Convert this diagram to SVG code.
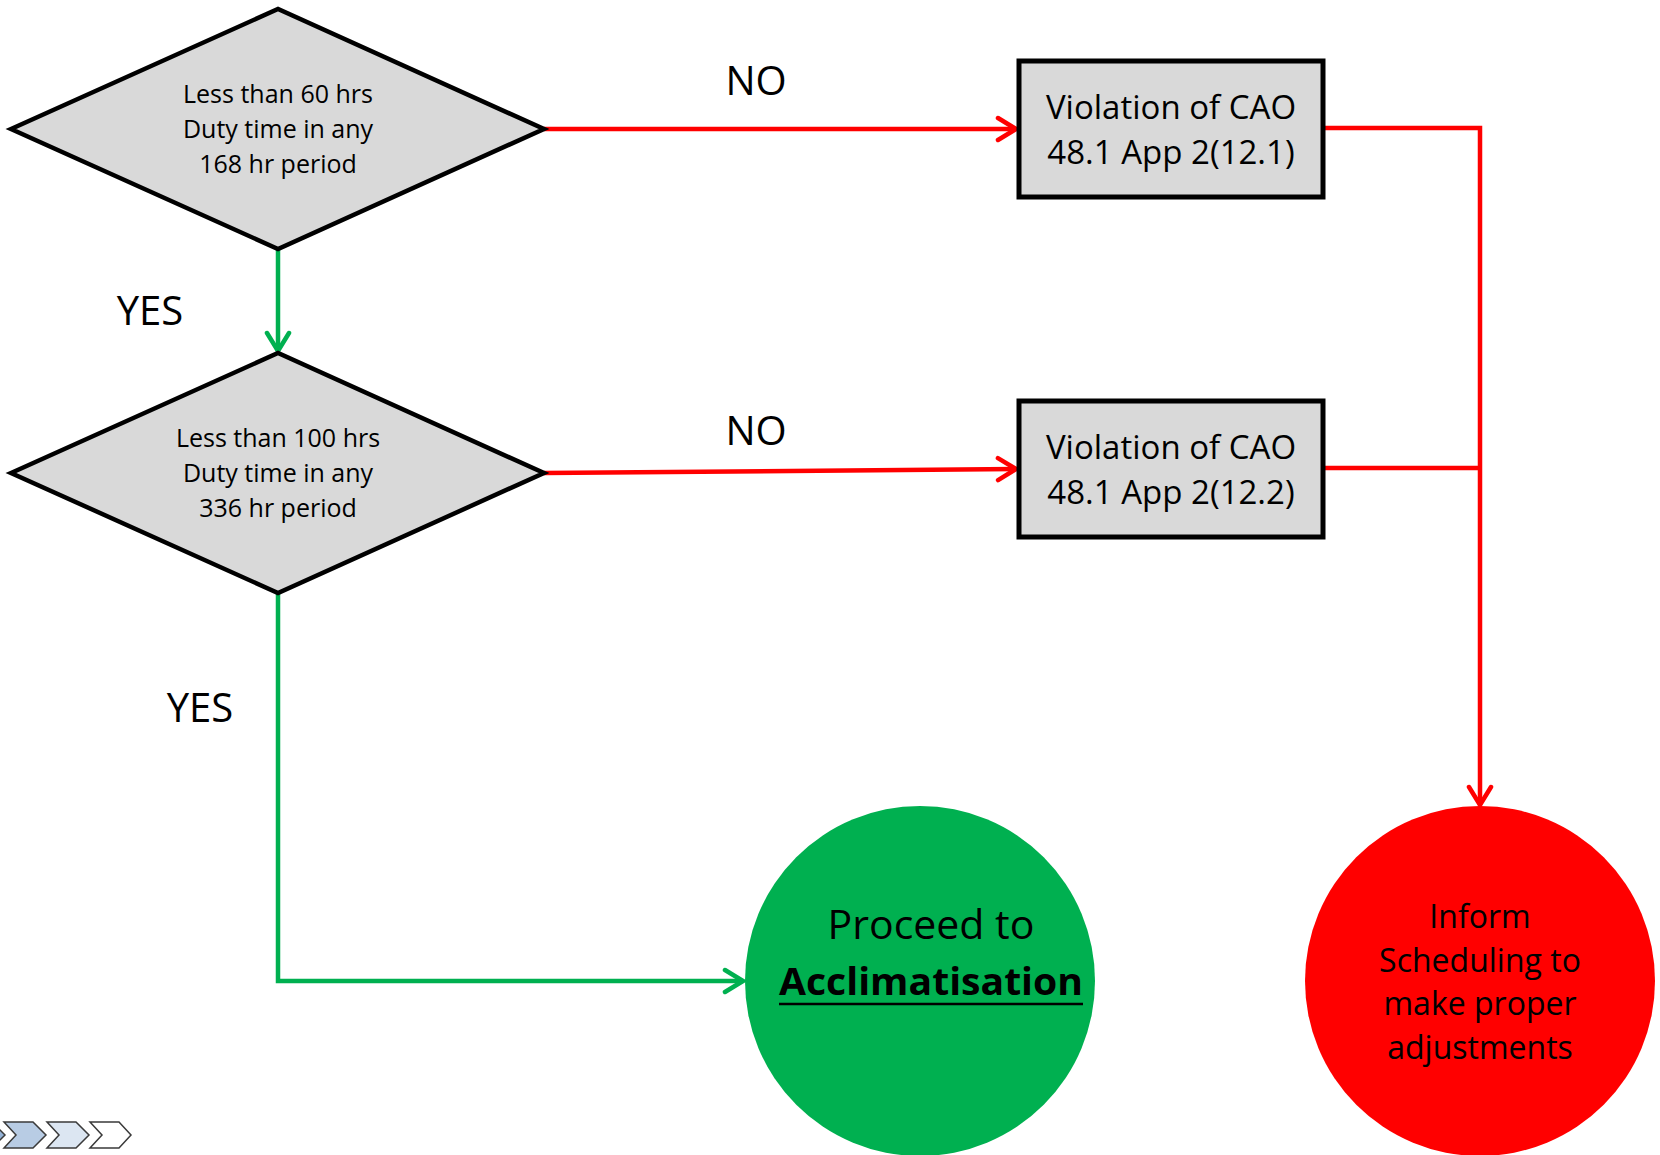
<svg xmlns="http://www.w3.org/2000/svg" width="1660" height="1155" viewBox="0 0 1660 1155">
<defs>
<style>
text{font-family:"Open Sans","Noto Sans","Liberation Sans",sans-serif;fill:#000;text-anchor:middle}
.dia{fill:#D9D9D9;stroke:#000;stroke-width:4.5;stroke-linejoin:miter}
.box{fill:#D9D9D9;stroke:#000;stroke-width:5}
.red{fill:none;stroke:#FF0000;stroke-width:4.5}
.grn{fill:none;stroke:#00B050;stroke-width:4.5}
.t25{font-size:25px}
.t32{font-size:33px}
.t32c{font-size:32px}
.lab{font-size:40px}
.chev{stroke:#3A3A3A;stroke-width:1.5;stroke-linejoin:miter}
</style>
<marker id="ar" viewBox="-22 -14 26 28" markerWidth="26" markerHeight="28" refX="0" refY="0" orient="auto" markerUnits="userSpaceOnUse">
<path d="M-18,-11 L0,0 L-18,11" fill="none" stroke="#FF0000" stroke-width="4.5" stroke-linecap="round" stroke-linejoin="miter"/>
</marker>
<marker id="ag" viewBox="-22 -14 26 28" markerWidth="26" markerHeight="28" refX="0" refY="0" orient="auto" markerUnits="userSpaceOnUse">
<path d="M-18,-11 L0,0 L-18,11" fill="none" stroke="#00B050" stroke-width="4.5" stroke-linecap="round" stroke-linejoin="miter"/>
</marker>
</defs>
<rect width="1660" height="1155" fill="#fff"/>

<g id="connectors">
<path class="red" d="M544,129 L1016,129" marker-end="url(#ar)"/>
<path class="red" d="M544,473 L1016,469" marker-end="url(#ar)"/>
<path class="red" d="M1324,128 L1480,128 L1480,805" marker-end="url(#ar)"/>
<path class="red" d="M1324,468 L1480,468"/>
<path class="grn" d="M278,249 L278,351" marker-end="url(#ag)"/>
<path class="grn" d="M278,593 L278,981 L743,981" marker-end="url(#ag)"/>
<text class="lab" x="756" y="95">NO</text>
<text class="lab" x="756" y="445">NO</text>
<text class="lab" x="150" y="325">YES</text>
<text class="lab" x="200" y="722">YES</text>
</g>

<g id="decision1">
<polygon class="dia" points="11,129 278,9 544,129 278,249"/>
<text class="t25" x="278" y="103">Less than 60 hrs</text>
<text class="t25" x="278" y="138">Duty time in any</text>
<text class="t25" x="278" y="173">168 hr period</text>
</g>

<g id="decision2">
<polygon class="dia" points="11,473 278,353 544,473 278,593"/>
<text class="t25" x="278" y="447">Less than 100 hrs</text>
<text class="t25" x="278" y="482">Duty time in any</text>
<text class="t25" x="278" y="517">336 hr period</text>
</g>

<g id="violation1">
<rect class="box" x="1019" y="61" width="304" height="136"/>
<text class="t32" x="1171" y="119">Violation of CAO</text>
<text class="t32" x="1171" y="164">48.1 App 2(12.1)</text>
</g>

<g id="violation2">
<rect class="box" x="1019" y="401" width="304" height="136"/>
<text class="t32" x="1171" y="459">Violation of CAO</text>
<text class="t32" x="1171" y="504">48.1 App 2(12.2)</text>
</g>

<g id="proceed">
<circle cx="920" cy="981" r="175" fill="#00B050"/>
<text x="931" y="939" style="font-size:41px">Proceed to</text>
<text x="931" y="995" style="font-size:38px;font-weight:bold" textLength="304" lengthAdjust="spacingAndGlyphs">Acclimatisation</text>
<line x1="779" y1="1004" x2="1083" y2="1004" stroke="#000" stroke-width="2.5"/>
</g>

<g id="inform">
<circle cx="1480" cy="981" r="175" fill="#FF0000"/>
<text class="t32c" x="1480" y="928">Inform</text>
<text class="t32c" x="1480" y="972">Scheduling to</text>
<text class="t32c" x="1480" y="1015">make proper</text>
<text class="t32c" x="1480" y="1059">adjustments</text>
</g>

<g id="chevrons">
<polygon class="chev" fill="#95B3D7" points="-37,1122 -8,1122 5,1135 -8,1148 -37,1148 -24,1135"/>
<polygon class="chev" fill="#B8CCE4" points="4,1122 33,1122 46,1135 33,1148 4,1148 16,1135"/>
<polygon class="chev" fill="#DCE6F2" points="47,1122 76,1122 89,1135 76,1148 47,1148 59,1135"/>
<polygon class="chev" fill="#FFFFFF" points="90,1122 119,1122 131,1135 119,1148 90,1148 102,1135"/>
</g>
</svg>
